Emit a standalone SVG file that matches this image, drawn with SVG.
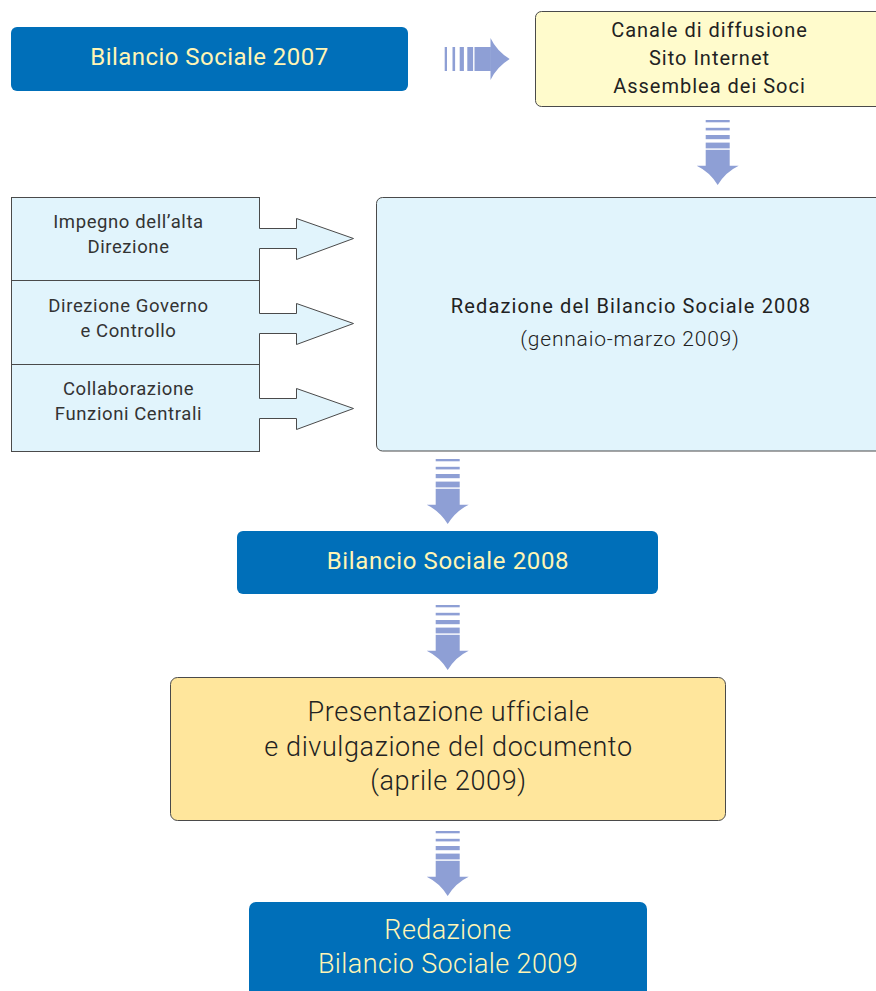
<svg xmlns="http://www.w3.org/2000/svg" xmlns:xlink="http://www.w3.org/1999/xlink" width="876" height="991" viewBox="0 0 876 991">
<style>
  .blue { fill: #006FB9; }
  .cream { fill: #FFF5B5; font-family: Roboto, "Liberation Sans", sans-serif; text-anchor: middle; }
  .dark { fill: #222222; font-family: Roboto, "Liberation Sans", sans-serif; text-anchor: middle; }
  .grey { fill: #333333; font-family: Roboto, "Liberation Sans", sans-serif; text-anchor: middle; font-size: 18.5px; letter-spacing: 0.6px; }
  .outline { stroke: #4a4a4a; stroke-width: 1; }
  .lb { fill: #E1F4FC; }
  .med { font-weight: 400; }
  .light { font-weight: 300; }
  .arrowfill { fill: #8E9FD5; }
</style>
<defs>
  <g id="stripedArrow" class="arrowfill">
    <rect x="-12" y="0" width="24" height="2.3"/>
    <rect x="-12" y="7.8" width="24" height="2.6"/>
    <rect x="-12" y="15" width="24" height="4.2"/>
    <rect x="-12" y="22.6" width="24" height="5.8"/>
    <rect x="-12" y="29.8" width="24" height="16.4"/>
    <path d="M-21,45.8 L21,45.8 Q8,52 0,65 Q-8,52 -21,45.8 Z"/>
  </g>
</defs>
<rect width="876" height="991" fill="#ffffff"/>

<g id="node-bs2007">
  <rect class="blue" x="11" y="27" width="397" height="64" rx="6"/>
  <text class="cream med" x="209.5" y="65" font-size="24" letter-spacing="0.45">Bilancio Sociale 2007</text>
</g>

<g id="node-canale">
  <rect x="535.5" y="11.5" width="360" height="95" rx="6" fill="#FFFBCC" class="outline"/>
  <g class="dark med" font-size="20" letter-spacing="1">
    <text x="709.5" y="37">Canale di diffusione</text>
    <text x="709.5" y="65">Sito Internet</text>
    <text x="709.5" y="93">Assemblea dei Soci</text>
  </g>
</g>

<g id="node-impegno">
  <rect class="lb outline" x="11.5" y="197.5" width="248" height="83"/>
  <text class="grey" x="128.5" y="228">Impegno dell’alta</text>
  <text class="grey" x="128.5" y="253">Direzione</text>
</g>
<g id="node-governo">
  <rect class="lb outline" x="11.5" y="280.5" width="248" height="84"/>
  <text class="grey" x="128.5" y="312">Direzione Governo</text>
  <text class="grey" x="128.5" y="337">e Controllo</text>
</g>
<g id="node-funzioni">
  <rect class="lb outline" x="11.5" y="364.5" width="248" height="87"/>
  <text class="grey" x="128.5" y="395">Collaborazione</text>
  <text class="grey" x="128.5" y="420">Funzioni Centrali</text>
</g>

<g id="node-redazione2008">
  <rect class="lb outline" x="376.5" y="197.5" width="520" height="253.5" rx="6"/>
  <text class="dark med" x="631" y="312.5" font-size="20" letter-spacing="1.15">Redazione del Bilancio Sociale 2008</text>
  <text class="dark light" x="630" y="346" font-size="21" letter-spacing="0.8">(gennaio-marzo 2009)</text>
</g>

<g id="node-bs2008">
  <rect class="blue" x="237" y="531" width="421" height="63" rx="6"/>
  <text class="cream med" x="448" y="569" font-size="24" letter-spacing="0.65">Bilancio Sociale 2008</text>
</g>

<g id="node-presentazione">
  <rect x="170.5" y="677.5" width="555" height="143" rx="7" fill="#FFE69C" class="outline"/>
  <g class="dark light" font-size="27" letter-spacing="0.6">
    <text x="448.5" y="721">Presentazione ufficiale</text>
    <text x="448.5" y="755.5">e divulgazione del documento</text>
    <text x="448.5" y="790">(aprile 2009)</text>
  </g>
</g>

<g id="node-redazione2009">
  <rect class="blue" x="249" y="902" width="398" height="100" rx="7"/>
  <g class="cream light" font-size="27" letter-spacing="0.4">
    <text x="448" y="939">Redazione</text>
    <text x="448" y="973">Bilancio Sociale 2009</text>
  </g>
</g>

<g id="connectors">
  <use xlink:href="#stripedArrow" transform="translate(444.7,59) rotate(-90)"/>
  <use xlink:href="#stripedArrow" transform="translate(717.7,120)"/>
  <use xlink:href="#stripedArrow" transform="translate(447.7,459)"/>
  <use xlink:href="#stripedArrow" transform="translate(447.7,605)"/>
  <use xlink:href="#stripedArrow" transform="translate(447.7,831)"/>

  <path class="lb" d="M258.5,228.5 H296.5 V218.5 L353.5,238.5 L296.5,259.5 V248.5 H258.5 Z"/>
  <path class="outline" fill="none" d="M259.5,228.5 H296.5 V218.5 L353.5,238.5 L296.5,259.5 V248.5 H259.5"/>
  <path class="lb" d="M258.5,313.5 H296.5 V303.5 L353.5,323.5 L296.5,344.5 V333.5 H258.5 Z"/>
  <path class="outline" fill="none" d="M259.5,313.5 H296.5 V303.5 L353.5,323.5 L296.5,344.5 V333.5 H259.5"/>
  <path class="lb" d="M258.5,398.5 H296.5 V388.5 L353.5,408.5 L296.5,429.5 V418.5 H258.5 Z"/>
  <path class="outline" fill="none" d="M259.5,398.5 H296.5 V388.5 L353.5,408.5 L296.5,429.5 V418.5 H259.5"/>
</g>
</svg>
